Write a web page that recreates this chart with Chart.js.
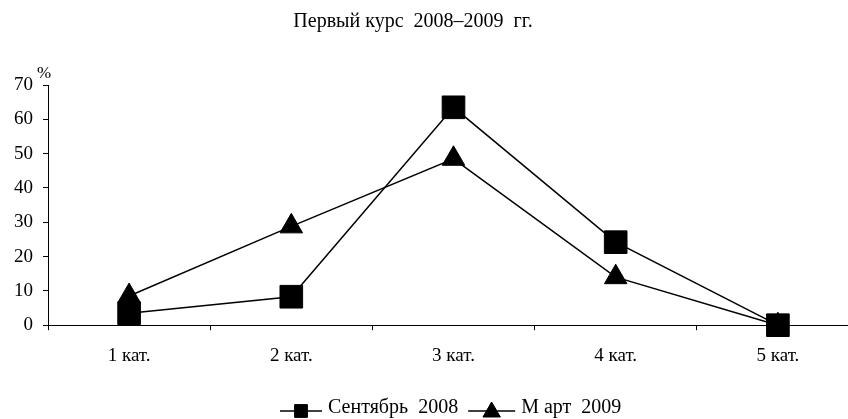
<!DOCTYPE html>
<html><head><meta charset="utf-8">
<script src="https://cdn.jsdelivr.net/npm/chart.js@4.4.1/dist/chart.umd.min.js"></script>
<style>html,body{margin:0;padding:0;background:#fff;overflow:hidden}#wrap{width:848px;height:419px;overflow:hidden}</style>
</head><body><div id="wrap"><canvas id="c" width="876" height="419"></canvas></div>
<script>
const categories = ['1 кат.', '2 кат.', '3 кат.', '4 кат.', '5 кат.'];
const september2008 = [3.5, 8.3, 63.5, 24.2, 0];
const march2009 = [8.5, 28.8, 48.5, 14, 0];
const seriesNames = ['Сентябрь  2008', 'М арт  2009'];
const titleText = 'Первый курс  2008–2009  гг.';
const yUnit = '%';

const FONT = 'Liberation Serif';

const extras = {
  id: 'extras',
  afterDraw(chart) {
    const ctx = chart.ctx;
    const y = chart.scales.y;
    ctx.save();
    ctx.fillStyle = '#000';
    // title
    ctx.font = '20px "' + FONT + '"';
    ctx.textAlign = 'center';
    ctx.textBaseline = 'middle';
    ctx.fillText(titleText, 413, 22);
    // unit
    ctx.font = '17px "' + FONT + '"';
    ctx.textAlign = 'left';
    ctx.textBaseline = 'alphabetic';
    ctx.fillText(yUnit, y.right - 11, y.top - 7);
    // legend
    const ly = 411;
    ctx.font = '20px "' + FONT + '"';
    ctx.textBaseline = 'middle';
    const items = [
      {style: 'rect', name: seriesNames[0], r: 9, len: 42},
      {style: 'triangle', name: seriesNames[1], r: 10, len: 47}
    ];
    let x = 280;
    items.forEach((it) => {
      ctx.strokeStyle = '#000';
      ctx.lineWidth = 1.5;
      ctx.beginPath();
      ctx.moveTo(x, ly); ctx.lineTo(x + it.len, ly); ctx.stroke();
      ctx.lineWidth = 1;
      Chart.helpers.drawPoint(ctx, {pointStyle: it.style, radius: it.r, rotation: 0, borderWidth: 1}, x + it.len / 2, ly + (it.style === 'triangle' ? 1 : 0));
      ctx.fill();
      x += it.len + 6;
      ctx.fillText(it.name, x, ly - 3);
      x += ctx.measureText(it.name).width + 10;
    });
    ctx.restore();
  }
};

new Chart(document.getElementById('c'), {
  type: 'line',
  data: {
    labels: categories,
    datasets: [
      {label: seriesNames[0], data: september2008, order: 0, clip: false, borderColor: '#000', backgroundColor: '#000', borderWidth: 1.5,
       pointStyle: 'rect', pointRadius: 16, pointBorderWidth: 1, pointBackgroundColor: '#000', pointBorderColor: '#000', tension: 0},
      {label: seriesNames[1], data: march2009, order: 1, clip: false, borderColor: '#000', backgroundColor: '#000', borderWidth: 1.5,
       pointStyle: 'triangle', pointRadius: 13, pointBorderWidth: 1, pointBackgroundColor: '#000', pointBorderColor: '#000', tension: 0}
    ]
  },
  options: {
    responsive: false,
    animation: false,
    events: [],
    layout: {padding: {left: 4, right: 0, top: 85, bottom: 38}},
    plugins: {
      legend: {display: false},
      tooltip: {enabled: false},
      title: {display: false}
    },
    scales: {
      x: {
        offset: true,
        grid: {display: true, drawOnChartArea: false, offset: true, color: '#000', tickLength: 5, tickColor: '#000'},
        border: {display: true, color: '#000', width: 1},
        ticks: {color: '#000', font: {family: FONT, size: 19}, padding: 14, maxRotation: 0}
      },
      y: {
        min: 0, max: 70,
        grid: {display: true, drawOnChartArea: false, color: '#000', tickLength: 5, tickColor: '#000'},
        border: {display: true, color: '#000', width: 1},
        ticks: {stepSize: 10, color: '#000', font: {family: FONT, size: 19}, padding: 10}
      }
    }
  },
  plugins: [extras]
});
</script></body></html>
